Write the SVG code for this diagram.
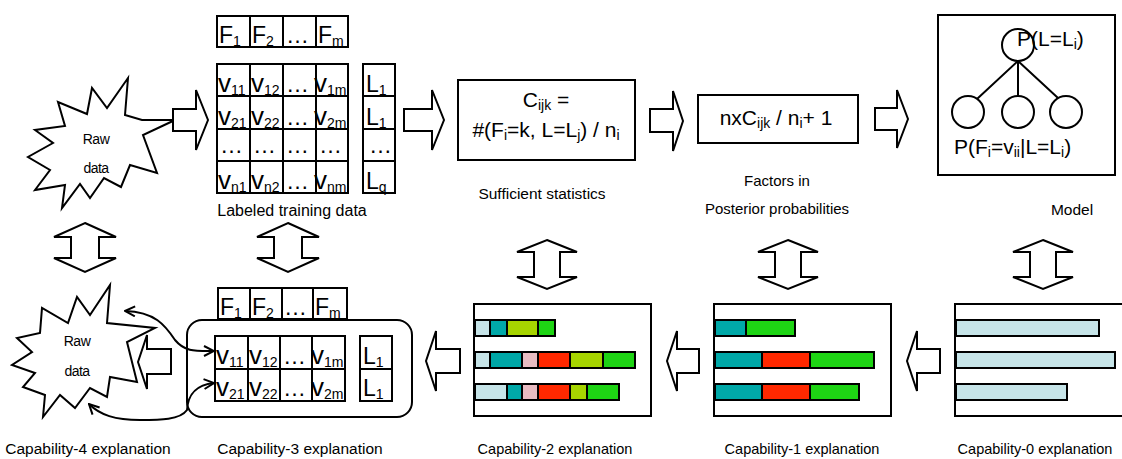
<svg xmlns="http://www.w3.org/2000/svg" width="1122" height="459" viewBox="0 0 1122 459">
<style>
text{font-family:"Liberation Sans",Arial,sans-serif;fill:#000}
.lbl{font-size:14.5px;text-anchor:middle}
.lbl2{font-size:15.5px;text-anchor:middle}
.top{font-size:15.5px;text-anchor:middle}
.cell{fill:#fff;stroke:#000;stroke-width:2}
.m{font-size:23px}
.v{font-size:26px}
.s{font-size:14px}
.f{font-size:21px}
.ln{fill:none;stroke:#000;stroke-width:2}
.blk{fill:#fff;stroke:#000;stroke-width:2;stroke-linejoin:miter}
.bar{stroke:#000;stroke-width:2}
.lb{fill:#c6e4e8}.tl{fill:#00a8a8}.yg{fill:#a6d400}.gr{fill:#1ed414}.rd{fill:#ff2800}.pk{fill:#e8bcc2}
</style>
<defs>
<marker id="oa" viewBox="0 0 12 12" refX="11" refY="6" markerWidth="12" markerHeight="12" markerUnits="userSpaceOnUse" orient="auto-start-reverse">
<path d="M1,1 L11,6 L1,11" fill="none" stroke="#000" stroke-width="2"/>
</marker>
</defs>

<g id="raw-data-top">
<polygon class="blk" points="128,78 125,115 142,120 175,120 143,135 157,173 130,165 121,187 104,178 90,198 80,184 62,208 65,185 35,190 50,170 28,157 53,143 35,130 65,126 58,102 87,114 92,88 107,108"/>
<text x="96" y="144" font-size="14" text-anchor="middle" letter-spacing="-0.5">Raw</text>
<text x="96" y="173" font-size="14" text-anchor="middle" letter-spacing="-0.5">data</text>
</g>

<g id="training-data">
<rect class="cell" x="217" y="16" width="33" height="31"/><rect class="cell" x="250" y="16" width="33" height="31"/><rect class="cell" x="283" y="16" width="33" height="31"/><rect class="cell" x="316" y="16" width="32" height="31"/>
<text x="219" y="43" class="m">F<tspan class="s" dy="3">1</tspan></text>
<text x="252" y="43" class="m">F<tspan class="s" dy="3">2</tspan></text>
<text x="286" y="43" class="m">…</text>
<text x="318" y="43" class="m">F<tspan class="s" dy="3">m</tspan></text>
<g>
<rect class="cell" x="217" y="64" width="33" height="32"/><rect class="cell" x="250" y="64" width="33" height="32"/><rect class="cell" x="283" y="64" width="33" height="32"/><rect class="cell" x="316" y="64" width="32" height="32"/>
<rect class="cell" x="217" y="96" width="33" height="33"/><rect class="cell" x="250" y="96" width="33" height="33"/><rect class="cell" x="283" y="96" width="33" height="33"/><rect class="cell" x="316" y="96" width="32" height="33"/>
<rect class="cell" x="217" y="129" width="33" height="32"/><rect class="cell" x="250" y="129" width="33" height="32"/><rect class="cell" x="283" y="129" width="33" height="32"/><rect class="cell" x="316" y="129" width="32" height="32"/>
<rect class="cell" x="217" y="161" width="33" height="32"/><rect class="cell" x="250" y="161" width="33" height="32"/><rect class="cell" x="283" y="161" width="33" height="32"/><rect class="cell" x="316" y="161" width="32" height="32"/>
</g>
<text x="218" y="92" class="v">v<tspan class="s" dy="3">11</tspan></text>
<text x="251" y="92" class="v">v<tspan class="s" dy="3">12</tspan></text>
<text x="286" y="92" class="m">…</text>
<text x="314" y="92" class="v">v<tspan class="s" dy="3">1m</tspan></text>
<text x="218" y="125" class="v">v<tspan class="s" dy="3">21</tspan></text>
<text x="251" y="125" class="v">v<tspan class="s" dy="3">22</tspan></text>
<text x="286" y="125" class="m">…</text>
<text x="314" y="125" class="v">v<tspan class="s" dy="3">2m</tspan></text>
<text x="220" y="153" class="m">…</text><text x="253" y="153" class="m">…</text><text x="286" y="153" class="m">…</text><text x="319" y="153" class="m">…</text>
<text x="218" y="189" class="v">v<tspan class="s" dy="3">n1</tspan></text>
<text x="251" y="189" class="v">v<tspan class="s" dy="3">n2</tspan></text>
<text x="286" y="189" class="m">…</text>
<text x="314" y="189" class="v">v<tspan class="s" dy="3">nm</tspan></text>
<rect class="cell" x="363" y="64" width="32" height="32"/><rect class="cell" x="363" y="96" width="32" height="33"/><rect class="cell" x="363" y="129" width="32" height="32"/><rect class="cell" x="363" y="161" width="32" height="32"/>
<text x="366" y="92" class="m">L<tspan class="s" dy="3">1</tspan></text>
<text x="366" y="125" class="m">L<tspan class="s" dy="3">1</tspan></text>
<text x="369" y="153" class="m">…</text>
<text x="366" y="189" class="m">L<tspan class="s" dy="3">q</tspan></text>
<text x="292" y="216" font-size="16" text-anchor="middle">Labeled training data</text>
</g>

<g id="sufficient-statistics">
<rect class="cell" x="458" y="80" width="177" height="80"/>
<text x="546" y="107" class="f" text-anchor="middle">C<tspan class="s" dy="3">ijk</tspan><tspan dy="-3"> =</tspan></text>
<text x="546" y="137" class="f" text-anchor="middle">#(F<tspan class="s" dy="3">i</tspan><tspan dy="-3">=k, L=L</tspan><tspan class="s" dy="3">j</tspan><tspan dy="-3">) / n</tspan><tspan class="s" dy="3">i</tspan></text>
<text x="542" y="199" class="top">Sufficient statistics</text>
</g>

<g id="posterior-factors">
<rect class="cell" x="698" y="95" width="160" height="48"/>
<text x="776" y="125" class="f" text-anchor="middle">nxC<tspan class="s" dy="3">ijk</tspan><tspan dy="-3"> / n</tspan><tspan class="s" dy="3">i</tspan><tspan dy="-3">+ 1</tspan></text>
<text x="777" y="186" font-size="15" text-anchor="middle">Factors in</text>
<text x="777" y="214" font-size="15" text-anchor="middle">Posterior probabilities</text>
</g>

<g id="model">
<rect class="cell" x="938" y="15" width="177" height="160"/>
<circle class="ln" cx="1018" cy="45" r="16"/>
<circle class="ln" cx="968" cy="112" r="16"/>
<circle class="ln" cx="1018" cy="112" r="16"/>
<circle class="ln" cx="1066" cy="112" r="16"/>
<path class="ln" d="M1018,61 L977,99 M1018,61 L1018,96 M1018,61 L1058,98"/>
<text x="1017" y="46" font-size="21">P(L=L<tspan class="s" dy="3">i</tspan><tspan dy="-3">)</tspan></text>
<text x="954" y="154" font-size="21">P(F<tspan class="s" dy="3">i</tspan><tspan dy="-3">=v</tspan><tspan class="s" dy="3">ii</tspan><tspan dy="-3">|L=L</tspan><tspan class="s" dy="3">i</tspan><tspan dy="-3">)</tspan></text>
<text x="1072" y="215" class="top">Model</text>
</g>

<g id="raw-data-bottom">
<polygon class="blk" points="110,285 107,323 155,328 127,342 137,382 110,377 107,397 90,388 75,408 60,395 43,417 45,395 23,387 35,373 12,365 32,352 17,338 40,333 42,308 68,323 77,297 90,315"/>
<text x="77" y="346" font-size="14" text-anchor="middle" letter-spacing="-0.5">Raw</text>
<text x="77" y="376" font-size="14" text-anchor="middle" letter-spacing="-0.5">data</text>
<text x="88" y="454" class="lbl2">Capability-4 explanation</text>
</g>

<g id="capability-3">
<rect class="cell" x="187" y="320" width="225" height="97" rx="15"/>
<rect class="cell" x="218" y="288" width="32" height="31"/><rect class="cell" x="250" y="288" width="32" height="31"/><rect class="cell" x="282" y="288" width="31" height="31"/><rect class="cell" x="313" y="288" width="34" height="31"/>
<text x="220" y="315" class="m">F<tspan class="s" dy="3">1</tspan></text>
<text x="252" y="315" class="m">F<tspan class="s" dy="3">2</tspan></text>
<text x="284" y="315" class="m">…</text>
<text x="315" y="315" class="m">F<tspan class="s" dy="3">m</tspan></text>
<rect class="cell" x="215" y="336" width="33" height="33"/><rect class="cell" x="248" y="336" width="32" height="33"/><rect class="cell" x="280" y="336" width="32" height="33"/><rect class="cell" x="312" y="336" width="33" height="33"/>
<rect class="cell" x="215" y="369" width="33" height="32"/><rect class="cell" x="248" y="369" width="32" height="32"/><rect class="cell" x="280" y="369" width="32" height="32"/><rect class="cell" x="312" y="369" width="33" height="32"/>
<text x="216" y="364" class="v">v<tspan class="s" dy="3">11</tspan></text>
<text x="249" y="364" class="v">v<tspan class="s" dy="3">12</tspan></text>
<text x="283" y="364" class="m">…</text>
<text x="311" y="364" class="v">v<tspan class="s" dy="3">1m</tspan></text>
<text x="216" y="396" class="v">v<tspan class="s" dy="3">21</tspan></text>
<text x="249" y="396" class="v">v<tspan class="s" dy="3">22</tspan></text>
<text x="283" y="396" class="m">…</text>
<text x="311" y="396" class="v">v<tspan class="s" dy="3">2m</tspan></text>
<rect class="cell" x="360" y="336" width="32" height="33"/><rect class="cell" x="360" y="369" width="32" height="32"/>
<text x="363" y="364" class="m">L<tspan class="s" dy="3">1</tspan></text>
<text x="363" y="396" class="m">L<tspan class="s" dy="3">1</tspan></text>
<text x="300" y="454" class="lbl2">Capability-3 explanation</text>
</g>

<g id="capability-2">
<rect class="cell" x="474" y="304" width="177" height="112"/>
<rect class="bar lb" x="475" y="320" width="15" height="16"/><rect class="bar tl" x="490" y="320" width="17" height="16"/><rect class="bar yg" x="507" y="320" width="31" height="16"/><rect class="bar gr" x="538" y="320" width="17" height="16"/>
<rect class="bar lb" x="475" y="352" width="15" height="16"/><rect class="bar tl" x="490" y="352" width="32" height="16"/><rect class="bar pk" x="522" y="352" width="16" height="16"/><rect class="bar rd" x="538" y="352" width="32" height="16"/><rect class="bar yg" x="570" y="352" width="33" height="16"/><rect class="bar gr" x="603" y="352" width="32" height="16"/>
<rect class="bar lb" x="475" y="384" width="32" height="16"/><rect class="bar tl" x="507" y="384" width="15" height="16"/><rect class="bar pk" x="522" y="384" width="16" height="16"/><rect class="bar rd" x="538" y="384" width="32" height="16"/><rect class="bar yg" x="570" y="384" width="17" height="16"/><rect class="bar gr" x="587" y="384" width="32" height="16"/>
<text x="555" y="454" class="lbl">Capability-2 explanation</text>
</g>

<g id="capability-1">
<rect class="cell" x="714" y="304" width="177" height="112"/>
<rect class="bar tl" x="715" y="320" width="31" height="16"/><rect class="bar gr" x="746" y="320" width="49" height="16"/>
<rect class="bar tl" x="715" y="352" width="47" height="16"/><rect class="bar rd" x="762" y="352" width="48" height="16"/><rect class="bar gr" x="810" y="352" width="64" height="16"/>
<rect class="bar tl" x="715" y="384" width="47" height="16"/><rect class="bar rd" x="762" y="384" width="48" height="16"/><rect class="bar gr" x="810" y="384" width="49" height="16"/>
<text x="802" y="454" class="lbl">Capability-1 explanation</text>
</g>

<g id="capability-0">
<rect class="cell" x="955" y="304" width="180" height="112"/>
<rect class="bar lb" x="956" y="320" width="143" height="16"/>
<rect class="bar lb" x="956" y="352" width="159" height="16"/>
<rect class="bar lb" x="956" y="384" width="111" height="16"/>
<text x="1035" y="454" class="lbl">Capability-0 explanation</text>
</g>

<g id="connectors">
<polygon class="blk" points="173,109 196,109 196,90 208,120 196,150 196,131 173,131"/>
<polygon class="blk" points="404,109 432,109 432,90 444,120 432,150 432,131 404,131"/>
<polygon class="blk" points="650,109 673,109 673,91 683,121 673,151 673,132 650,132"/>
<polygon class="blk" points="875,108 897,108 897,90 908,119 897,148 897,130 875,130"/>
<polygon class="blk" points="940,349 917,349 917,331 907,361 917,391 917,373 940,373"/>
<polygon class="blk" points="699,349 677,349 677,331 667,361 677,391 677,373 699,373"/>
<polygon class="blk" points="460,349 436,349 436,331 426,361 436,391 436,373 460,373"/>
<polygon class="blk" points="171,349 147,349 147,335 138,362 147,389 147,374 171,374"/>
<polygon class="blk" points="85,223 116,237 99,237 99,258 116,258 85,272 54,258 71,258 71,237 54,237"/>
<polygon class="blk" points="288,223 319,237 302,237 302,258 319,258 288,272 257,258 274,258 274,237 257,237"/>
<polygon class="blk" points="547,240 577,252 560,252 560,277 577,277 547,289 517,277 534,277 534,252 517,252"/>
<polygon class="blk" points="788,240 818,252 801,252 801,277 818,277 788,289 758,277 775,277 775,252 758,252"/>
<polygon class="blk" points="1043,240 1073,252 1056,252 1056,277 1073,277 1043,289 1013,277 1030,277 1030,252 1013,252"/>
<path class="ln" d="M125,311 C155,312 165,325 175,340 C185,352 195,351 214,351" marker-start="url(#oa)" marker-end="url(#oa)"/>
<path class="ln" d="M214,383 C195,385 188,395 187,410 C180,420 160,420 140,420 C115,420 100,415 89,404" marker-start="url(#oa)" marker-end="url(#oa)"/>
</g>
</svg>
